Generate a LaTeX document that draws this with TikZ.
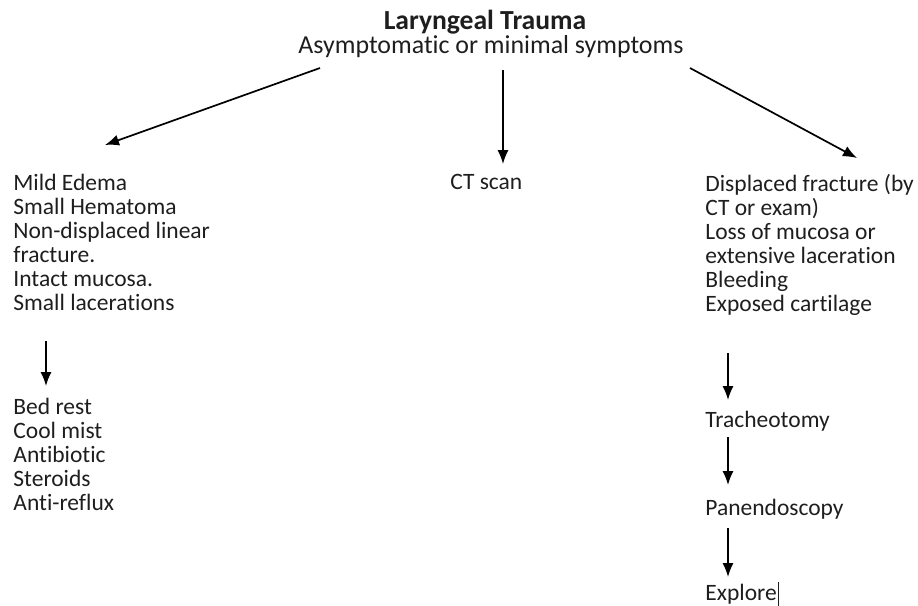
\documentclass[tikz,border=0pt]{standalone}
\usepackage{fontspec}
\setmainfont{Carlito}[Ligatures={NoCommon}]
\usetikzlibrary{arrows.meta}
\definecolor{txt}{HTML}{1E1E1E}
\tikzset{
  body/.style={anchor=north west, inner sep=0pt, align=left, text=txt,
    font=\fontsize{11.75}{12}\selectfont},
  arr/.style={draw=black, line width=0.85pt, -{Latex[length=7pt,width=5.6pt]}},
}
\begin{document}
\begin{tikzpicture}[x=0.5pt,y=-0.5pt]
\useasboundingbox (0,0) rectangle (918,606);
\node[inner sep=0pt, text=txt, font=\fontsize{13.8}{14}\selectfont\bfseries] (title) at (485,22) {Laryngeal Trauma};
\node[inner sep=0pt, text=txt, font=\fontsize{12.95}{13}\selectfont] (sub) at (491,47) {Asymptomatic or minimal symptoms};
\node[body] (mild) at (13,174) {Mild Edema\\Small Hematoma\\Non-displaced linear\\fracture.\\Intact mucosa.\\Small lacerations};
\node[body] (ct) at (450,174) {CT scan};
\node[body] (disp) at (705,174) {Displaced fracture (by\\CT or exam)\\Loss of mucosa or\\extensive laceration\\Bleeding\\Exposed cartilage};
\node[body] (bed) at (13,398) {Bed rest\\Cool mist\\Antibiotic\\Steroids\\Anti-reflux};
\node[body] (trach) at (705,411) {Tracheotomy};
\node[body] (pan) at (705,499) {Panendoscopy};
\node[body] (expl) at (705,584) {Explore};
\draw[line width=0.4pt, txt] ([xshift=0.5pt,yshift=1pt]expl.north east) -- ([xshift=0.5pt,yshift=-1pt]expl.south east);
% connector end points
\coordinate (l0) at (320,68);
\coordinate (l1) at (105,145);
\coordinate (c0) at (503,70);
\coordinate (c1) at (503,164);
\coordinate (r0) at (690,68);
\coordinate (r1) at (857,158);
\coordinate (m0) at (46,341);
\coordinate (m1) at (46,386);
\coordinate (a0) at (728,353);
\coordinate (a1) at (728,400);
\coordinate (b0) at (728,437);
\coordinate (b1) at (728,485);
\coordinate (e0) at (728,528);
\coordinate (e1) at (728,577);
\draw[arr] (l0) -- (l1);
\draw[arr] (c0) -- (c1);
\draw[arr] (r0) -- (r1);
\draw[arr] (m0) -- (m1);
\draw[arr] (a0) -- (a1);
\draw[arr] (b0) -- (b1);
\draw[arr] (e0) -- (e1);
\end{tikzpicture}
\end{document}
